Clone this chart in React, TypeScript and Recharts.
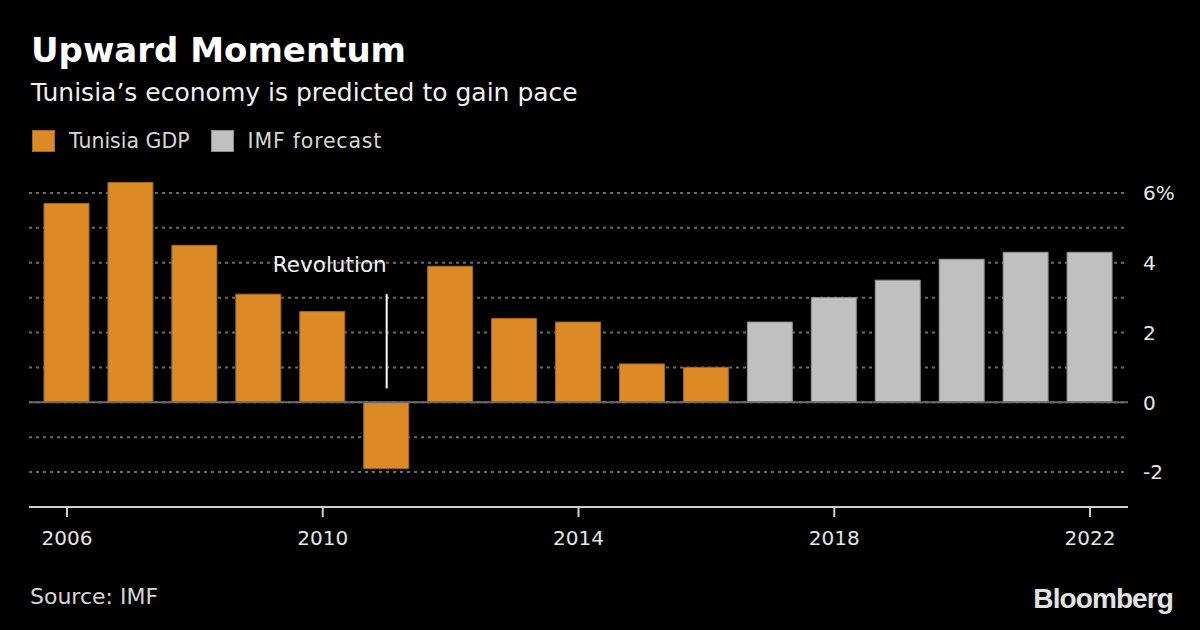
import React from "react";
import {
  Bar,
  BarChart,
  CartesianGrid,
  ReferenceDot,
  ReferenceLine,
  XAxis,
  YAxis,
} from "recharts";

const ORANGE = "#DC8A26";
const GRAY = "#C0C0C0";
const FONT = "'DejaVu Sans', Verdana, sans-serif";

const YEARS = [
  "2006", "2007", "2008", "2009", "2010", "2011", "2012", "2013", "2014",
  "2015", "2016", "2017", "2018", "2019", "2020", "2021", "2022",
];
const GDP = [5.7, 6.3, 4.5, 3.1, 2.6, -1.9, 3.9, 2.4, 2.3, 1.1, 1.0, null, null, null, null, null, null];
const IMF = [null, null, null, null, null, null, null, null, null, null, null, 2.3, 3.0, 3.5, 4.1, 4.3, 4.3];
const Y_TICKS = [-2, -1, 0, 1, 2, 3, 4, 5, 6];

const data = YEARS.map((year, i) => ({ year, gdp: GDP[i], imf: IMF[i] }));

function YTick({ x, y, payload }: { x?: number; y?: number; payload?: { value: number } }) {
  if (x === undefined || y === undefined || !payload) return null;
  const v = payload.value;
  if (v % 2 !== 0) return null;
  return (
    <text x={x} y={y} dy="0.36em" textAnchor="start" fill="#e6e6e6" style={{ fontSize: 20, fontFamily: FONT }}>
      {v === 6 ? "6%" : String(v)}
    </text>
  );
}

export default function App() {
  return (
    <div
      style={{
        position: "absolute",
        left: 0,
        top: 0,
        width: 1200,
        height: 630,
        background: "#000",
        fontFamily: FONT,
        overflow: "hidden",
      }}
    >
      <div style={{ position: "absolute", left: 31, top: 30, color: "#fff", fontSize: 34, fontWeight: 700, whiteSpace: "nowrap" }}>
        Upward Momentum
      </div>
      <div style={{ position: "absolute", left: 31, top: 78, color: "#f2f2f2", fontSize: 25, whiteSpace: "nowrap" }}>
        Tunisia’s economy is predicted to gain pace
      </div>
      <div style={{ position: "absolute", left: 32, top: 129, display: "flex", alignItems: "center", color: "#d6d6d6", fontSize: 20.5 }}>
        {[
          { color: ORANGE, label: "Tunisia GDP", border: "#a8661a" },
          { color: GRAY, label: "IMF forecast", border: "#8f8f8f" },
        ].map(({ color, label, border }) => (
          <div key={label} style={{ display: "flex", alignItems: "center", marginRight: 21 }}>
            <span
              style={{
                display: "inline-block",
                width: 21,
                height: 20,
                background: color,
                border: `1px solid ${border}`,
                marginRight: 14,
              }}
            />
            <span style={{ letterSpacing: label === "IMF forecast" ? 0.8 : 0 }}>{label}</span>
          </div>
        ))}
      </div>

      <div style={{ position: "absolute", left: 0, top: 0 }}>
        <BarChart
          width={1200}
          height={630}
          data={data}
          margin={{ top: 172, right: 0, bottom: 83, left: 29 }}
          barSize={45}
          stackOffset="sign"
        >
          <CartesianGrid
            vertical={false}
            horizontalValues={Y_TICKS}
            stroke="#6a6a6a"
            strokeWidth={2}
            strokeDasharray="3 4"
          />
          <XAxis
            dataKey="year"
            interval={3}
            height={40}
            padding={{ left: 6, right: 6 }}
            axisLine={{ stroke: "#cfcfcf", strokeWidth: 2 }}
            tickLine={{ stroke: "#cfcfcf", strokeWidth: 2 }}
            tickSize={10}
            tickMargin={14}
            tick={{ fill: "#e6e6e6", fontSize: 20, fontFamily: FONT }}
          />
          <YAxis
            orientation="right"
            type="number"
            domain={[-3, 6.6]}
            ticks={Y_TICKS}
            width={72}
            axisLine={false}
            tickLine={false}
            tickSize={6}
            tickMargin={9}
            tick={<YTick />}
          />
          <ReferenceLine y={0} stroke="#6a6a6a" strokeWidth={2} />
          <Bar dataKey="gdp" stackId="a" fill={ORANGE} stroke="#a8661a" strokeWidth={1} isAnimationActive={false} />
          <Bar dataKey="imf" stackId="a" fill={GRAY} stroke="#8f8f8f" strokeWidth={1} isAnimationActive={false} />
          <ReferenceLine
            segment={[
              { x: "2011", y: 0.4 },
              { x: "2011", y: 3.1 },
            ]}
            stroke="#fff"
            strokeWidth={2}
          />
          <ReferenceDot
            x="2011"
            y={3.95}
            r={0}
            shape={(p: { cx?: number; cy?: number }) => (
              <text
                x={p.cx}
                y={p.cy}
                dy="0.36em"
                textAnchor="end"
                fill="#f2f2f2"
                style={{ fontSize: 21.5, fontFamily: FONT }}
              >
                Revolution
              </text>
            )}
          />
        </BarChart>
      </div>

      <div style={{ position: "absolute", left: 30, top: 584, color: "#d6d6d6", fontSize: 22 }}>Source: IMF</div>
      <div
        style={{
          position: "absolute",
          right: 27,
          top: 583,
          color: "#e3e3e3",
          fontSize: 28,
          fontWeight: 700,
          letterSpacing: -0.9,
          fontFamily: "'Liberation Sans', Arial, sans-serif",
        }}
      >
        Bloomberg
      </div>
    </div>
  );
}
